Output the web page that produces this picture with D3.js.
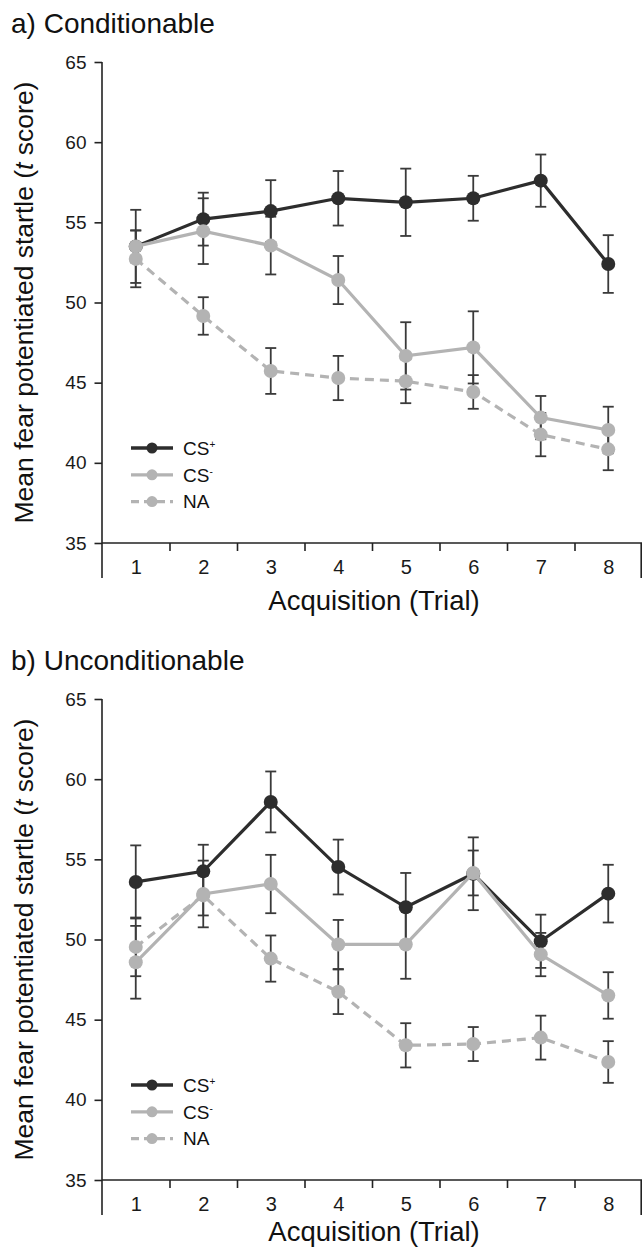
<!DOCTYPE html>
<html>
<head>
<meta charset="utf-8">
<style>
    body { margin: 0; background: white; }
    svg { background-color: white; font-family: "Liberation Sans", Arial, Helvetica, sans-serif; }
    .tick line { stroke: #222; stroke-width: 1.6; }
    .tick text { fill: #1a1a1a; }
</style>
</head>
<body>
<script src="https://d3js.org/d3.v7.min.js"></script>
<script>

const width = 643;
const height = 1249;

const trials = [1, 2, 3, 4, 5, 6, 7, 8];
const yTicks = [35, 40, 45, 50, 55, 60, 65];
const seriesNames = ['CS+', 'CS-', 'NA'];

// a) Conditionable
const condCSplus = [53.5, 55.2, 55.7, 56.5, 56.25, 56.5, 57.6, 52.4];
const condCSplusSE = [2.28, 1.65, 1.93, 1.7, 2.1, 1.4, 1.63, 1.8];
const condCSminus = [53.5, 54.45, 53.55, 51.4, 46.67, 47.2, 42.82, 42.05];
const condCSminusSE = [1.0, 2.05, 1.8, 1.5, 2.1, 2.25, 1.35, 1.45];
const condNA = [52.72, 49.16, 45.73, 45.29, 45.09, 44.42, 41.76, 40.84];
const condNASE = [1.77, 1.17, 1.43, 1.38, 1.37, 1.05, 1.35, 1.3];

// b) Unconditionable
const uncondCSplus = [53.59, 54.25, 58.58, 54.52, 52.01, 54.1, 49.89, 52.86];
const uncondCSplusSE = [2.28, 1.66, 1.9, 1.71, 2.14, 2.27, 1.66, 1.8];
const uncondCSminus = [48.58, 52.84, 53.46, 49.69, 49.69, 54.15, 49.06, 46.51];
const uncondCSminusSE = [2.27, 2.08, 1.82, 1.53, 2.14, 1.4, 1.35, 1.45];
const uncondNA = [49.54, 52.75, 48.81, 46.74, 43.4, 43.48, 43.88, 42.36];
const uncondNASE = [1.83, 1.25, 1.44, 1.39, 1.38, 1.06, 1.37, 1.3];

const dark = '#2d2d2d';
const grey = '#b3b3b3';
const barColor = '#3a3a3a';

const styles = {
    'CS+': { color: dark, dash: null },
    'CS-': { color: grey, dash: null },
    'NA': { color: grey, dash: '9,6' }
};

const plotLeft = 102;
const plotRight = 642;
const plotTop = 62;
const plotBottom = 543;
const panelGap = 637;

const svg = d3.select('body').append('svg')
    .attr('width', width)
    .attr('height', height);

const x = d3.scaleLinear().domain([0.5, 8.5]).range([plotLeft, plotRight]);
const y = d3.scaleLinear().domain([35, 65]).range([plotBottom, plotTop]);

const drawPanel = (offset, title, series, xTitleY) => {
    const g = svg.append('g').attr('transform', `translate(0, ${offset})`);

    g.append('text')
        .attr('x', 11)
        .attr('y', 33)
        .style('font-size', '28px')
        .style('fill', '#111')
        .text(title);

    // y axis
    const yAxis = g.append('g')
        .attr('transform', `translate(${plotLeft}, 0)`)
        .call(d3.axisLeft(y).tickValues(yTicks).tickSize(7.5).tickPadding(8));
    yAxis.select('.domain').remove();
    yAxis.selectAll('text').style('font-size', '19px');

    // x axis: boundary ticks + labels
    const xAxis = g.append('g')
        .attr('transform', `translate(0, ${plotBottom})`)
        .call(d3.axisBottom(x).tickValues([1.5, 2.5, 3.5, 4.5, 5.5, 6.5, 7.5]).tickSize(8).tickFormat(''));
    xAxis.select('.domain').remove();

    const xLabels = g.append('g')
        .attr('transform', `translate(0, ${plotBottom})`)
        .call(d3.axisBottom(x).tickValues(trials).tickSize(0).tickPadding(17));
    xLabels.select('.domain').remove();
    xLabels.selectAll('text').style('font-size', '20px');

    // frame lines
    g.append('line')
        .attr('x1', plotLeft).attr('x2', plotLeft)
        .attr('y1', plotTop).attr('y2', plotBottom + 35)
        .style('stroke', '#222').style('stroke-width', 1.6);
    g.append('line')
        .attr('x1', plotLeft).attr('x2', plotRight)
        .attr('y1', plotBottom).attr('y2', plotBottom)
        .style('stroke', '#222').style('stroke-width', 1.6);
    g.append('line')
        .attr('x1', plotRight - 0.8).attr('x2', plotRight - 0.8)
        .attr('y1', plotBottom).attr('y2', plotBottom + 35)
        .style('stroke', '#222').style('stroke-width', 1.6);

    g.append('text')
        .attr('x', 374)
        .attr('y', xTitleY)
        .attr('text-anchor', 'middle')
        .style('font-size', '27.5px')
        .style('fill', '#111')
        .text('Acquisition (Trial)');

    const yl = g.append('text')
        .attr('transform', `translate(33, ${(plotTop + plotBottom) / 2}) rotate(-90)`)
        .attr('text-anchor', 'middle')
        .style('font-size', '26.5px')
        .style('fill', '#111');
    yl.append('tspan').text('Mean fear potentiated startle (');
    yl.append('tspan').style('font-style', 'italic').text('t');
    yl.append('tspan').text(' score)');

    // error bars
    seriesNames.forEach((name) => {
        const s = series[name];
        const bars = g.append('g');
        trials.forEach((t, i) => {
            const lo = y(s.values[i] - s.se[i]);
            const hi = y(s.values[i] + s.se[i]);
            const cx = x(t);
            bars.append('line')
                .attr('x1', cx).attr('x2', cx).attr('y1', lo).attr('y2', hi)
                .style('stroke', barColor).style('stroke-width', 1.8);
            [lo, hi].forEach((cy) => {
                bars.append('line')
                    .attr('x1', cx - 5.5).attr('x2', cx + 5.5).attr('y1', cy).attr('y2', cy)
                    .style('stroke', barColor).style('stroke-width', 1.8);
            });
        });
    });

    // lines and markers
    const line = d3.line().x((d, i) => x(trials[i])).y((d) => y(d));
    seriesNames.forEach((name) => {
        const s = series[name];
        const st = styles[name];
        g.append('path')
            .datum(s.values)
            .attr('d', line)
            .style('fill', 'none')
            .style('stroke', st.color)
            .style('stroke-width', 3.2)
            .style('stroke-dasharray', st.dash);
        g.selectAll(null)
            .data(s.values)
            .enter().append('circle')
                .attr('cx', (d, i) => x(trials[i]))
                .attr('cy', (d) => y(d))
                .attr('r', 7)
                .style('fill', st.color);
    });

    // legend
    const legend = g.append('g').attr('transform', `translate(0, ${plotTop + 386})`);
    seriesNames.forEach((name, i) => {
        const st = styles[name];
        const row = legend.append('g').attr('transform', `translate(0, ${i * 26.8})`);
        row.append('line')
            .attr('x1', 131).attr('x2', 173)
            .attr('y1', 0).attr('y2', 0)
            .style('stroke', st.color)
            .style('stroke-width', 3.3)
            .style('stroke-dasharray', st.dash ? '8,5' : null);
        row.append('circle')
            .attr('cx', 152).attr('cy', 0).attr('r', 5.5)
            .style('fill', st.color);
        const txt = row.append('text')
            .attr('x', 183).attr('y', 6.8)
            .style('font-size', '19px')
            .style('fill', '#111');
        if (name === 'NA') {
            txt.text('NA');
        } else {
            txt.append('tspan').text('CS');
            txt.append('tspan')
                .attr('dy', -6.5)
                .style('font-size', '10px')
                .text(name === 'CS+' ? '+' : '-');
        }
    });
};

drawPanel(0, 'a) Conditionable', {
    'CS+': { values: condCSplus, se: condCSplusSE },
    'CS-': { values: condCSminus, se: condCSminusSE },
    'NA': { values: condNA, se: condNASE }
}, 610);

drawPanel(panelGap, 'b) Unconditionable', {
    'CS+': { values: uncondCSplus, se: uncondCSplusSE },
    'CS-': { values: uncondCSminus, se: uncondCSminusSE },
    'NA': { values: uncondNA, se: uncondNASE }
}, 604);

</script>
</body>
</html>
